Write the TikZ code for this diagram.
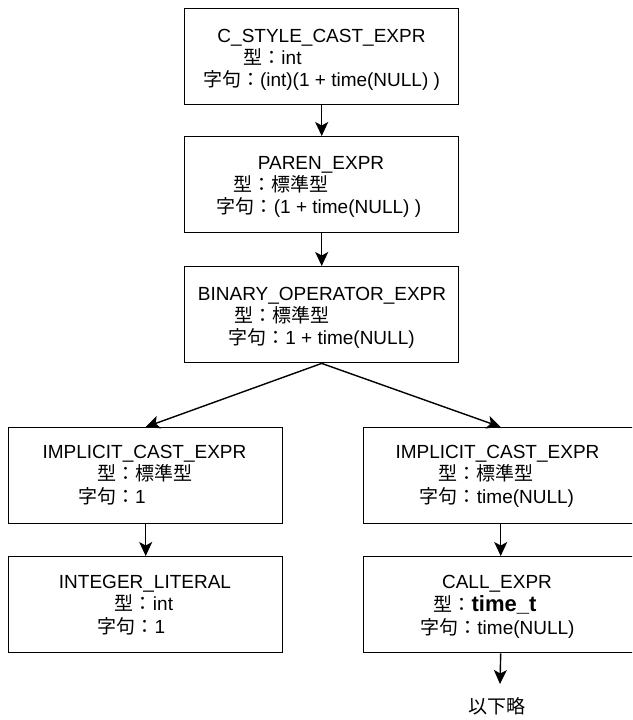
\documentclass[tikz,border=0pt]{standalone}
\usepackage{fontspec}
\setmainfont{Liberation Sans}
\newfontfamily\cjk{Noto Sans CJK JP}
\usetikzlibrary{arrows.meta}
\begin{document}
\begin{tikzpicture}[x=1pt,y=-1pt,
 box/.style={draw, line width=1.4pt, minimum width=274pt, minimum height=96pt, inner sep=0pt, anchor=north west},
 txt/.style={anchor=base, inner sep=0pt, font=\fontsize{19}{22}\selectfont},
 arr/.style={line width=1.4pt, -{Stealth[length=14pt,width=13pt,inset=3.5pt]}}]
\useasboundingbox (0,0) rectangle (632,720);
\clip (0,0) rectangle (632,720);
% boxes
\node[box] (b1) at (184,8) {};
\node[box] (b2) at (184,136) {};
\node[box] (b3) at (184,266) {};
\node[box] (l1) at (8,427) {};
\node[box] (r1) at (363,427) {};
\node[box] (l2) at (8,556) {};
\node[box] (r2) at (363,556) {};
% box 1
\node[txt] (b1a) at (321.5,42) {C\_STYLE\_CAST\_EXPR};
\node[txt] (b1b) at (272.5,64) {{\cjk 型：}int};
\node[txt] (b1c) at (321.5,86) {{\cjk 字句：}(int)(1 + time(NULL) )};
% box 2
\node[txt] (b2a) at (321,169) {PAREN\_EXPR};
\node[txt] (b2b) at (281,191) {{\cjk 型：標準型}};
\node[txt] (b2c) at (319,213) {{\cjk 字句：}(1 + time(NULL) )};
% box 3
\node[txt] (b3a) at (322,300) {BINARY\_OPERATOR\_EXPR};
\node[txt] (b3b) at (281.5,322) {{\cjk 型：標準型}};
\node[txt] (b3c) at (321.5,344) {{\cjk 字句：}1 + time(NULL)};
% left 1
\node[txt] (l1a) at (144.5,458) {IMPLICIT\_CAST\_EXPR};
\node[txt] (l1b) at (145,480) {{\cjk 型：標準型}};
\node[txt] (l1c) at (112,503) {{\cjk 字句：}1};
% right 1
\node[txt] (r1a) at (497.5,458) {IMPLICIT\_CAST\_EXPR};
\node[txt] (r1b) at (485.5,480) {{\cjk 型：標準型}};
\node[txt] (r1c) at (497,503) {{\cjk 字句：}time(NULL)};
% left 2
\node[txt] (l2a) at (145,588) {INTEGER\_LITERAL};
\node[txt] (l2b) at (144,610) {{\cjk 型：}int};
\node[txt] (l2c) at (131.5,633) {{\cjk 字句：}1};
% right 2
\node[txt] (r2a) at (497,588) {CALL\_EXPR};
\node[txt] (r2b) at (485,611) {{\cjk 型：}{\fontsize{22}{22}\selectfont\bfseries time\_t}};
\node[txt] (r2c) at (497.5,634) {{\cjk 字句：}time(NULL)};
% tail
\node[txt, anchor=center] (rest) at (497,706) {{\cjk 以下略}};
\coordinate (tailend) at (500,684);
% arrows
\draw[arr] (b1.south) -- (b2.north);
\draw[arr] (b2.south) -- (b3.north);
\draw[arr] (b3.south) -- (l1.north);
\draw[arr] (b3.south) -- (r1.north);
\draw[arr] (l1.south) -- (l2.north);
\draw[arr] (r1.south) -- (r2.north);
\draw[arr] (r2.south) -- (tailend);
\end{tikzpicture}
\end{document}
